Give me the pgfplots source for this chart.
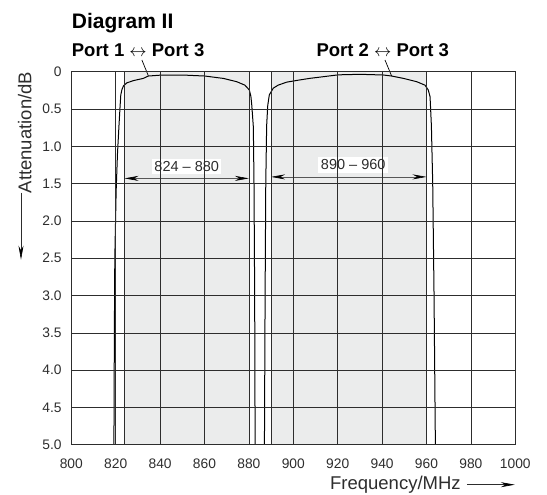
\documentclass[border=0pt]{standalone}
\usepackage{pgfplots}
\pgfplotsset{compat=1.18}
\usepackage{fontspec}
\setmainfont{Liberation Sans}
\usetikzlibrary{arrows.meta}

\definecolor{shade}{RGB}{235,236,236}
\definecolor{gridc}{RGB}{45,45,45}

\begin{document}
\begin{tikzpicture}
\path[use as bounding box] (-71.3pt,-50pt) rectangle (475.7pt,444.7pt);
\begin{axis}[
  at={(0pt,0pt)}, anchor=south west,
  width=444pt, height=373pt, scale only axis,
  xmin=800, xmax=1000, ymin=0, ymax=5,
  y dir=reverse,
  xtick={800,820,...,1000},
  ytick={0,0.5,...,5},
  yticklabels={0,0.5,1.0,1.5,2.0,2.5,3.0,3.5,4.0,4.5,5.0},
  extra x ticks={824,890},
  extra x tick labels={},
  extra x tick style={grid=major, major grid style={gridc, line width=0.6pt}},
  major tick length=0pt,
  grid=major,
  major grid style={gridc, line width=0.6pt},
  axis line style={gridc, line width=1.1pt},
  axis on top,
  /pgf/number format/assume math mode=true,
  /pgf/number format/1000 sep={},
  ticklabel style={font=\fontsize{13.8}{16}\selectfont, text=gridc},
  xticklabel style={anchor=north, inner sep=0pt, yshift=-13.5pt},
  yticklabel style={anchor=east, inner sep=0pt, xshift=-9.5pt},
  clip=false,
]
% pass bands
\addplot[fill=shade, draw=none] coordinates {(824,0) (880,0) (880,5) (824,5) (824,0)};
\addplot[fill=shade, draw=none] coordinates {(890,0) (960,0) (960,5) (890,5) (890,0)};

% Port 1 <-> Port 3
\addplot[black, line width=1pt] coordinates {
(819.2,5.0) (819.4,3.5) (819.6,2.5) (820.2,1.6) (820.8,1.1) (821.5,0.71)
(822,0.45) (822.3,0.31) (822.8,0.24) (823.5,0.19) (825,0.15) (827.9,0.12)
(832.4,0.09) (834.7,0.058) (840.3,0.046) (850.5,0.045) (860.2,0.058)
(868.5,0.09) (874.5,0.134) (878.2,0.18) (880.2,0.245) (880.9,0.33)
(881.3,0.45) (882,0.74) (882.3,1.5) (882.6,3.0) (882.8,5.0)};

% Port 2 <-> Port 3
\addplot[black, line width=1pt] coordinates {
(887,5.0) (887.3,3.0) (887.6,1.5) (888,0.72) (888.5,0.45) (889.2,0.31)
(890.2,0.26) (891,0.22) (893.2,0.18) (897,0.14) (903,0.11) (907.5,0.089)
(913.5,0.067) (920.3,0.042) (930,0.035) (940.5,0.044) (944.3,0.058)
(949.5,0.089) (955.6,0.134) (959.3,0.18) (960.8,0.245) (961.6,0.335)
(962.2,0.72) (962.8,1.5) (963.4,3.0) (964,5.0)};

% leaders
\draw[black, line width=0.7pt] (axis cs:831.8,-0.157) -- (axis cs:834.7,0.054);
\draw[black, line width=0.7pt] (axis cs:941.3,-0.157) -- (axis cs:944.3,0.058);

% band widths
\draw[gridc!80, line width=0.6pt, {Stealth[length=14pt,width=5pt,black]}-{Stealth[length=14pt,width=5pt,black]}]
  (axis cs:824,1.43) -- (axis cs:880,1.43);
\node[fill=white, inner sep=2.5pt, font=\fontsize{14.5}{17}\selectfont, text=gridc]
  at (axis cs:852,1.27) {824 – 880};
\draw[gridc!80, line width=0.6pt, {Stealth[length=14pt,width=5pt,black]}-{Stealth[length=14pt,width=5pt,black]}]
  (axis cs:890,1.41) -- (axis cs:960,1.41);
\node[fill=white, inner sep=2.5pt, font=\fontsize{14.5}{17}\selectfont, text=gridc]
  at (axis cs:927,1.25) {890 – 960};
\end{axis}

% titles
\node[anchor=base west, inner sep=0pt, font=\fontsize{21}{25}\selectfont\bfseries] at (0.4pt,416.3pt) {Diagram II};
\node[anchor=base west, inner sep=0pt, font=\fontsize{18.5}{22}\selectfont\bfseries] at (0.4pt,388.4pt) {Port 1 $\leftrightarrow$ Port 3};
\node[anchor=base west, inner sep=0pt, font=\fontsize{18.5}{22}\selectfont\bfseries] at (245.1pt,388.4pt) {Port 2 $\leftrightarrow$ Port 3};

% axis labels
\node[rotate=90, anchor=base east, inner sep=0pt, font=\fontsize{18.5}{22}\selectfont, text=gridc] at (-40pt,373pt) {Attenuation/dB};
\draw[gridc, line width=0.6pt, -{Stealth[length=14pt,width=5pt,black]}] (-50.3pt,252pt) -- (-50.3pt,185pt);
\node[anchor=base east, inner sep=0pt, font=\fontsize{18.5}{22}\selectfont, text=gridc] at (389.6pt,-45pt) {Frequency/MHz};
\draw[gridc, line width=0.6pt, -{Stealth[length=14pt,width=5pt,black]}] (395.5pt,-40pt) -- (443.5pt,-40pt);
\end{tikzpicture}
\end{document}
